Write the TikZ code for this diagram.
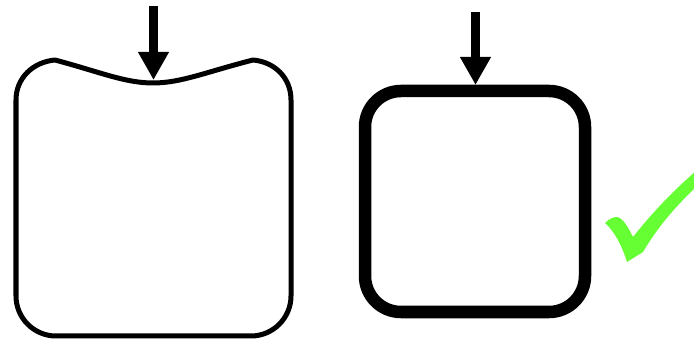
\documentclass[tikz,border=0pt]{standalone}
\usetikzlibrary{arrows.meta}
\definecolor{checkgreen}{RGB}{102,255,51}
\tikzset{
  pressarrow/.style={line width=0.095cm, -{Triangle[width=0.29cm,length=0.28cm]}},
  softbox/.style={line width=0.05cm, line join=round},
  hardbox/.style={line width=0.125cm, rounded corners=0.36cm},
}
\begin{document}
\begin{tikzpicture}[x=0.01cm,y=-0.01cm]
\useasboundingbox (0,0) rectangle (694,340);
% left deformed box
\draw[softbox] (55,60) .. controls (100,72) and (125,83) .. (153,83)
  .. controls (181,83) and (206,72) .. (253,60)
  .. controls (275,62) and (291,78) .. (291,100)
  -- (291,296) .. controls (291,318) and (273,336) .. (251,336)
  -- (56,336) .. controls (34,336) and (16,318) .. (16,296)
  -- (16,100) .. controls (16,78) and (33,62) .. (55,60) -- cycle;
\coordinate (a1s) at (153.5,6);
\coordinate (a1e) at (153.5,80);
\draw[pressarrow] (a1s) -- (a1e);
% right rigid box
\draw[hardbox] (365,91) rectangle (585,312);
\coordinate (a2s) at (475.5,12);
\coordinate (a2e) at (475.5,85);
\draw[pressarrow] (a2s) -- (a2e);
% check mark
\fill[checkgreen] (605,223) .. controls (609,219) and (613,217) .. (617,217)
  .. controls (623,218) and (628,227) .. (633,237)
  .. controls (652,213) and (672,192) .. (696,171)
  -- (696,187) .. controls (675,207) and (657,228) .. (643,252)
  -- (627,262) .. controls (622,246) and (615,232) .. (605,223) -- cycle;
\end{tikzpicture}
\end{document}
